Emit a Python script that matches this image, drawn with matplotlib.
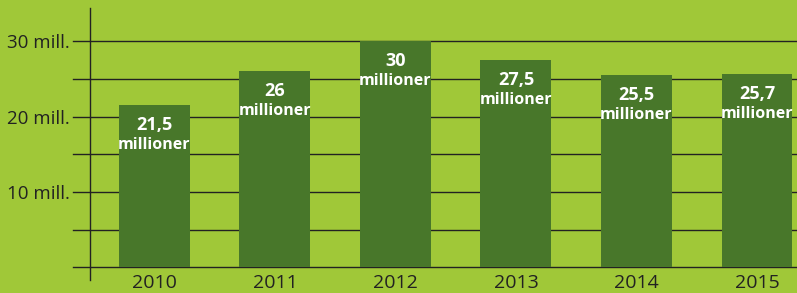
import matplotlib.pyplot as plt
import numpy as np

plt.rcParams['font.family'] = ['Open Sans', 'DejaVu Sans']

years = ["2010", "2011", "2012", "2013", "2014", "2015"]
values = [21.5, 26, 30, 27.5, 25.5, 25.7]
value_labels = ["21,5", "26", "30", "27,5", "25,5", "25,7"]
ytick_vals = [10, 20, 30]
ytick_labels = ["10 mill.", "20 mill.", "30 mill."]
grid_vals = [0, 5, 10, 15, 20, 25, 30]

bg = "#a0c838"
bar_color = "#48772a"
dark = "#222222"

W, H = 797, 293
fig = plt.figure(figsize=(W / 100, H / 100), dpi=100, facecolor=bg)
left, right, top, bottom = 89.5, 797, 8, 280
ax = fig.add_axes([left / W, 1 - bottom / H, (right - left) / W, (bottom - top) / H])
ax.set_facecolor(bg)

x = np.arange(len(years))
ax.set_xlim(-0.539, 5.332)
ax.set_ylim(-1.66, 34.4)

# gridlines start a bit left of the axis
for g in grid_vals:
    ax.axhline(g, xmin=-0.0233, xmax=1, color=dark, lw=1.0, zorder=1, clip_on=False)

ax.bar(x, values, width=0.589, color=bar_color, zorder=2)

for i in range(len(values)):
    ax.annotate(value_labels[i], (x[i], values[i]), xytext=(0, -20), textcoords="offset pixels",
                ha="center", va="center", color="white", fontsize=13, fontweight="bold", zorder=3)
    ax.annotate("millioner", (x[i], values[i]), xytext=(0, -40), textcoords="offset pixels",
                ha="center", va="center", color="white", fontsize=11.5, fontweight="bold", zorder=3)

for s in ["top", "right", "bottom"]:
    ax.spines[s].set_visible(False)
ax.spines["left"].set_color(dark)
ax.spines["left"].set_linewidth(1.0)

ax.set_yticks(ytick_vals, ytick_labels)
ax.set_xticks(x, years)
ax.tick_params(axis="y", length=0, pad=14, labelsize=13.5, labelcolor=dark)
ax.tick_params(axis="x", length=0, pad=-4, labelsize=14, labelcolor=dark)

fig.savefig("out.png", dpi=100, facecolor=bg)
